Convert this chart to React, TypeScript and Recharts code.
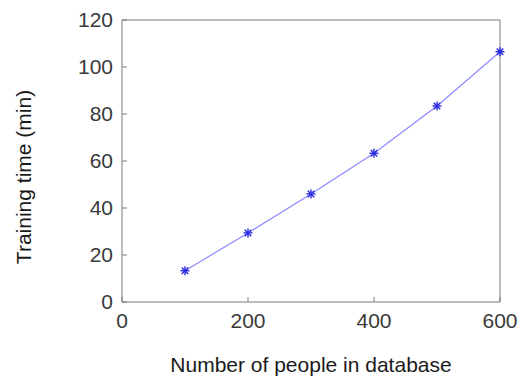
import { LineChart, Line, XAxis, YAxis } from "recharts";

const peopleCounts = [100, 200, 300, 400, 500, 600];
const trainingMinutes = [13.3, 29.4, 46, 63.3, 83.4, 106.5];
const xTicks = [0, 200, 400, 600];
const yTicks = [0, 20, 40, 60, 80, 100, 120];

const data = peopleCounts.map((n, i) => ({ people: n, time: trainingMinutes[i] }));

const FONT = '"Liberation Sans", Arial, sans-serif';
const frame = "#7a7a7a";
const TICK_LEN = 5;
const X_GAP = 11;
const Y_GAP = 9;

// label + inward tick mark (matlab box style)
const BottomTick = (props: any) => {
  const { x, y, payload } = props;
  return (
    <g>
      <line x1={x} x2={x} y1={y - X_GAP} y2={y - X_GAP - TICK_LEN} stroke={frame} />
      <text x={x} y={y} dy="0.71em" textAnchor="middle" fill="#3a3a3a" fontSize={21} fontFamily={FONT}>
        {payload.value}
      </text>
    </g>
  );
};

const LeftTick = (props: any) => {
  const { x, y, payload } = props;
  return (
    <g>
      <line x1={x + Y_GAP} x2={x + Y_GAP + TICK_LEN} y1={y} y2={y} stroke={frame} />
      <text x={x} y={y} dy="0.355em" textAnchor="end" fill="#3a3a3a" fontSize={21} fontFamily={FONT}>
        {payload.value}
      </text>
    </g>
  );
};

// matlab style "*" marker
const StarDot = (props: any) => {
  const { cx, cy, index } = props;
  if (cx == null || cy == null) return <g key={index} />;
  const r = 4.5;
  const d = r * 0.72;
  return (
    <g key={index} stroke="#2a2ae0" strokeWidth={1.4}>
      <line x1={cx - r} y1={cy} x2={cx + r} y2={cy} />
      <line x1={cx} y1={cy - r} x2={cx} y2={cy + r} />
      <line x1={cx - d} y1={cy - d} x2={cx + d} y2={cy + d} />
      <line x1={cx - d} y1={cy + d} x2={cx + d} y2={cy - d} />
    </g>
  );
};

export default function App() {
  return (
    <div style={{ position: "absolute", left: 0, top: 0, background: "#fff" }}>
      <LineChart
        width={521}
        height={378}
        data={data}
        margin={{ top: 20, right: 21, left: 0, bottom: 0 }}
      >
        <XAxis
          dataKey="people"
          type="number"
          domain={[0, 600]}
          ticks={xTicks}
          height={76}
          tick={BottomTick}
          tickSize={0}
          tickLine={false}
          tickMargin={X_GAP}
          axisLine={{ stroke: frame }}
          label={{
            value: "Number of people in database",
            position: "insideBottom",
            offset: 6,
            fill: "#1a1a1a",
            fontSize: 21,
            fontFamily: FONT,
          }}
        />
        <XAxis
          xAxisId="top"
          dataKey="people"
          orientation="top"
          mirror
          type="number"
          domain={[0, 600]}
          ticks={xTicks}
          height={1}
          tick={false}
          tickSize={TICK_LEN}
          axisLine={{ stroke: frame }}
          tickLine={{ stroke: frame }}
        />
        <YAxis
          type="number"
          domain={[0, 120]}
          ticks={yTicks}
          width={122}
          tick={LeftTick}
          tickSize={0}
          tickLine={false}
          tickMargin={Y_GAP}
          axisLine={{ stroke: frame }}
          label={{
            value: "Training time (min)",
            angle: -90,
            position: "insideLeft",
            offset: 23.5,
            dy: 16,
            fill: "#1a1a1a",
            fontSize: 21,
            fontFamily: FONT,
            style: { textAnchor: "middle" },
          }}
        />
        <YAxis
          yAxisId="right"
          orientation="right"
          mirror
          type="number"
          domain={[0, 120]}
          ticks={yTicks}
          width={1}
          tick={false}
          tickSize={TICK_LEN}
          axisLine={{ stroke: frame }}
          tickLine={{ stroke: frame }}
        />
        {/* invisible series so the top/right frame axes get drawn */}
        <Line
          xAxisId="top"
          yAxisId="right"
          dataKey="time"
          stroke="none"
          dot={false}
          activeDot={false}
          legendType="none"
          isAnimationActive={false}
        />
        <Line
          type="linear"
          dataKey="time"
          stroke="#8a8aff"
          strokeWidth={1.2}
          dot={StarDot}
          activeDot={false}
          isAnimationActive={false}
        />
      </LineChart>
    </div>
  );
}
